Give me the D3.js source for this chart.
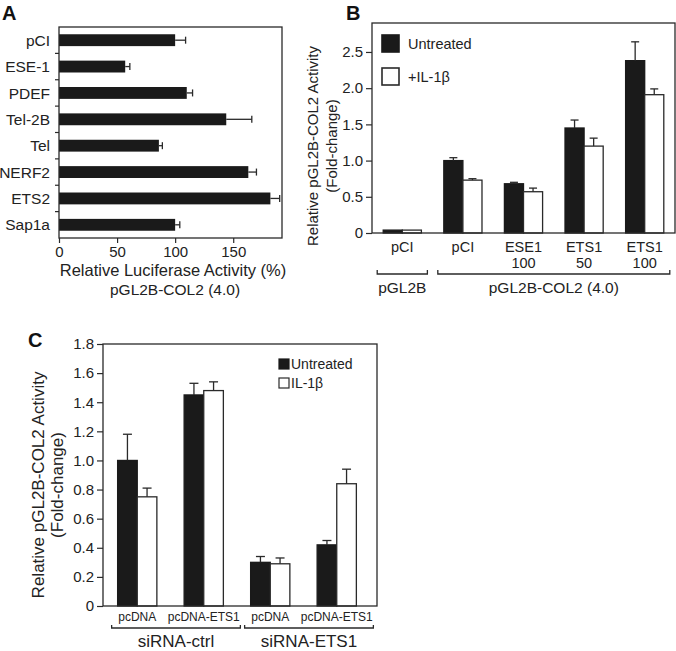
<!DOCTYPE html>
<html><head><meta charset="utf-8">
<script src="https://cdn.jsdelivr.net/npm/d3@7"></script>
<style>
html,body{margin:0;padding:0;background:#fff;}
svg{display:block;font-family:"Liberation Sans",Arial,Helvetica,sans-serif;}
</style></head>
<body>
<svg id="fig" width="676" height="651"></svg>
<script>
// ---------- Panel A data ----------
const aCategories = ["pCI","ESE-1","PDEF","Tel-2B","Tel","NERF2","ETS2","Sap1a"];
const aValues = [100, 57, 110, 144, 86, 163, 182, 100];
const aErrors = [9, 4, 5, 22, 3, 7, 8, 4];
const aTicks = [0, 50, 100, 150];

// ---------- Panel B data ----------
const bGroupLabels = [["pCI"], ["pCI"], ["ESE1","100"], ["ETS1","50"], ["ETS1","100"]];
const bUntreated = [0.04, 1.00, 0.68, 1.45, 2.38];
const bUntreatedErr = [0, 0.04, 0.02, 0.11, 0.26];
const bIL1b = [0.04, 0.73, 0.57, 1.20, 1.91];
const bIL1bErr = [0, 0.02, 0.05, 0.11, 0.08];
const bTicks = [0, 0.5, 1.0, 1.5, 2.0, 2.5];
const bBrackets = [["pGL2B", 0, 0], ["pGL2B-COL2 (4.0)", 1, 4]];

// ---------- Panel C data ----------
const cGroupLabels = ["pcDNA", "pcDNA-ETS1", "pcDNA", "pcDNA-ETS1"];
const cUntreated = [1.00, 1.45, 0.30, 0.42];
const cUntreatedErr = [0.18, 0.08, 0.04, 0.03];
const cIL1b = [0.75, 1.48, 0.29, 0.84];
const cIL1bErr = [0.06, 0.06, 0.04, 0.10];
const cTicks = [0, 0.2, 0.4, 0.6, 0.8, 1.0, 1.2, 1.4, 1.6, 1.8];
const cBrackets = [["siRNA-ctrl", 0, 1], ["siRNA-ETS1", 2, 3]];

const seriesNames = ["Untreated", "IL-1\u03B2"];

const svg = d3.select("#fig");
const INK = "#1a1a1a", LINE = "#2a2a2a", TXT = "#222";

function frame(g, x0, y0, x1, y1) {
  g.append("rect").attr("x", x0).attr("y", y0).attr("width", x1 - x0).attr("height", y1 - y0)
    .attr("fill", "none").attr("stroke", LINE).attr("stroke-width", 1.3);
}
function styleAxis(sel, fs) {
  sel.select(".domain").remove();
  sel.selectAll(".tick line").attr("stroke", LINE).attr("stroke-width", 1.2);
  sel.selectAll(".tick text").attr("fill", TXT).attr("font-size", fs).attr("font-family", null);
}

// ================= Panel A =================
(function () {
  const g = svg.append("g");
  const L = 59, R = 282, T = 27, B = 238;
  const x = d3.scaleLinear().domain([0, 192]).range([L, R]);
  const y = d3.scaleBand().domain(aCategories).range([T, B]).paddingInner(0.55).paddingOuter(0.275);

  g.selectAll("rect.bar").data(aCategories).join("rect")
    .attr("x", x(0)).attr("y", d => y(d))
    .attr("width", (d, i) => x(aValues[i]) - x(0)).attr("height", y.bandwidth())
    .attr("fill", INK);
  aCategories.forEach((d, i) => {
    const cy = y(d) + y.bandwidth() / 2, xe = x(aValues[i] + aErrors[i]);
    g.append("line").attr("x1", x(aValues[i])).attr("x2", xe).attr("y1", cy).attr("y2", cy)
      .attr("stroke", LINE).attr("stroke-width", 1.3);
    g.append("line").attr("x1", xe).attr("x2", xe).attr("y1", cy - 3.5).attr("y2", cy + 3.5)
      .attr("stroke", LINE).attr("stroke-width", 1.3);
  });
  frame(g, L, T, R, B);
  const gap = (y.step() - y.bandwidth()) / 2;
  aCategories.slice(1).forEach(d => {
    const yy = y(d) - gap;
    g.append("line").attr("x1", L - 4).attr("x2", L).attr("y1", yy).attr("y2", yy)
      .attr("stroke", LINE).attr("stroke-width", 1.2);
  });
  g.selectAll("text.cat").data(aCategories).join("text")
    .attr("x", L - 9).attr("y", d => y(d) + y.bandwidth() / 2).attr("dy", "0.36em")
    .attr("text-anchor", "end").attr("font-size", 15.5).attr("fill", TXT).text(d => d);
  const ax = g.append("g").attr("transform", `translate(0,${B})`)
    .call(d3.axisBottom(x).tickValues(aTicks).tickSize(5).tickPadding(3).tickFormat(d3.format("d")));
  styleAxis(ax, 15);
  g.append("text").attr("x", 173).attr("y", 276).attr("text-anchor", "middle")
    .attr("font-size", 16.5).attr("fill", TXT).text("Relative Luciferase Activity (%)");
  g.append("text").attr("x", 175).attr("y", 295).attr("text-anchor", "middle")
    .attr("font-size", 15.5).attr("fill", TXT).text("pGL2B-COL2 (4.0)");
  g.append("text").attr("x", 2).attr("y", 20).attr("font-size", 20).attr("font-weight", "bold")
    .attr("fill", "#111").text("A");
})();

// ================= Panel B =================
(function () {
  const g = svg.append("g");
  const L = 372, R = 675, T = 23, B = 233;
  const y = d3.scaleLinear().domain([0, 2.9]).range([B, T]);
  const x = d3.scaleBand().domain(d3.range(bUntreated.length)).range([L, R]).paddingInner(0.37).paddingOuter(0.185);
  const xs = d3.scaleBand().domain([0, 1]).range([0, x.bandwidth()]);
  const series = [[bUntreated, bUntreatedErr], [bIL1b, bIL1bErr]];

  series.forEach(([vals, errs], s) => {
    vals.forEach((v, i) => {
      const x0 = x(i) + xs(s), w = xs.bandwidth();
      g.append("rect").attr("x", x0).attr("y", y(v)).attr("width", w).attr("height", y(0) - y(v))
        .attr("fill", s === 0 ? INK : "#fff").attr("stroke", s === 0 ? INK : LINE).attr("stroke-width", 1.3);
      if (errs[i] > 0) {
        const cx = x0 + w / 2, ye = y(v + errs[i]);
        g.append("line").attr("x1", cx).attr("x2", cx).attr("y1", y(v)).attr("y2", ye).attr("stroke", LINE).attr("stroke-width", 1.3);
        g.append("line").attr("x1", cx - 4).attr("x2", cx + 4).attr("y1", ye).attr("y2", ye).attr("stroke", LINE).attr("stroke-width", 1.3);
      }
    });
  });
  frame(g, L, T, R, B);
  const ay = g.append("g").attr("transform", `translate(${L},0)`)
    .call(d3.axisLeft(y).tickValues(bTicks).tickSize(6).tickPadding(3)
      .tickFormat(d => d === 0 ? "0" : d3.format(".1f")(d)));
  styleAxis(ay, 15);
  g.append("text").attr("transform", `translate(318,146) rotate(-90)`).attr("text-anchor", "middle")
    .attr("font-size", 15).attr("fill", TXT).text("Relative pGL2B-COL2 Activity");
  g.append("text").attr("transform", `translate(337,146) rotate(-90)`).attr("text-anchor", "middle")
    .attr("font-size", 15).attr("fill", TXT).text("(Fold-change)");
  bGroupLabels.forEach((lines, i) => {
    lines.forEach((t, k) => {
      g.append("text").attr("x", x(i) + x.bandwidth() / 2).attr("y", 252 + k * 16)
        .attr("text-anchor", "middle").attr("font-size", 14.5).attr("fill", TXT).text(t);
    });
  });
  bBrackets.forEach(([lab, a, b]) => {
    const x0 = x(a) - 6, x1 = x(b) + x.bandwidth() + 6, yy = 274;
    g.append("path").attr("d", `M${x0},${yy - 4}V${yy}H${x1}V${yy - 4}`)
      .attr("fill", "none").attr("stroke", LINE).attr("stroke-width", 1.3);
    g.append("text").attr("x", (x0 + x1) / 2).attr("y", 293).attr("text-anchor", "middle")
      .attr("font-size", 15.5).attr("fill", TXT).text(lab);
  });
  const legLabels = ["Untreated", "+IL-1\u03B2"];
  legLabels.forEach((t, s) => {
    const yy = 35 + s * 33;
    g.append("rect").attr("x", 382).attr("y", yy).attr("width", 17).attr("height", 17)
      .attr("fill", s === 0 ? INK : "#fff").attr("stroke", s === 0 ? INK : LINE).attr("stroke-width", 1.6);
    g.append("text").attr("x", 408).attr("y", yy + 8.5).attr("dy", "0.36em")
      .attr("font-size", 14.5).attr("fill", TXT).text(t);
  });
  g.append("text").attr("x", 346).attr("y", 20).attr("font-size", 20).attr("font-weight", "bold")
    .attr("fill", "#111").text("B");
})();

// ================= Panel C =================
(function () {
  const g = svg.append("g");
  const L = 103, R = 377, T = 344, B = 606;
  const y = d3.scaleLinear().domain([0, 1.8]).range([B, T]);
  const x = d3.scaleBand().domain(d3.range(cUntreated.length)).range([104, 370]).paddingInner(0.41).paddingOuter(0.205);
  const xs = d3.scaleBand().domain([0, 1]).range([0, x.bandwidth()]);
  const series = [[cUntreated, cUntreatedErr], [cIL1b, cIL1bErr]];

  series.forEach(([vals, errs], s) => {
    vals.forEach((v, i) => {
      const x0 = x(i) + xs(s), w = xs.bandwidth();
      g.append("rect").attr("x", x0).attr("y", y(v)).attr("width", w).attr("height", y(0) - y(v))
        .attr("fill", s === 0 ? INK : "#fff").attr("stroke", s === 0 ? INK : LINE).attr("stroke-width", 1.3);
      const cx = x0 + w / 2, ye = y(v + errs[i]);
      g.append("line").attr("x1", cx).attr("x2", cx).attr("y1", y(v)).attr("y2", ye).attr("stroke", LINE).attr("stroke-width", 1.3);
      g.append("line").attr("x1", cx - 4.5).attr("x2", cx + 4.5).attr("y1", ye).attr("y2", ye).attr("stroke", LINE).attr("stroke-width", 1.3);
    });
  });
  frame(g, L, T, R, B);
  const ay = g.append("g").attr("transform", `translate(${L},0)`)
    .call(d3.axisLeft(y).tickValues(cTicks).tickSize(6).tickPadding(3)
      .tickFormat(d => d === 0 ? "0" : d3.format(".1f")(d)));
  styleAxis(ay, 15);
  g.append("text").attr("transform", `translate(38,485) rotate(-90)`).attr("text-anchor", "middle")
    .attr("dy", "0.36em").attr("font-size", 17).attr("fill", TXT).text("Relative pGL2B-COL2 Activity");
  g.append("text").attr("transform", `translate(57,485) rotate(-90)`).attr("text-anchor", "middle")
    .attr("dy", "0.36em").attr("font-size", 17).attr("fill", TXT).text("(Fold-change)");
  cGroupLabels.forEach((t, i) => {
    g.append("text").attr("x", x(i) + x.bandwidth() / 2).attr("y", 621)
      .attr("text-anchor", "middle").attr("font-size", 12).attr("fill", TXT).text(t);
  });
  cBrackets.forEach(([lab, a, b]) => {
    const x0 = x(a) - 6, x1 = x(b) + x.bandwidth() + 17, yy = 628;
    g.append("path").attr("d", `M${x0},${yy - 3}V${yy}H${x1}V${yy - 3}`)
      .attr("fill", "none").attr("stroke", LINE).attr("stroke-width", 1.3);
    g.append("text").attr("x", (x0 + x1) / 2).attr("y", 647).attr("text-anchor", "middle")
      .attr("font-size", 17).attr("fill", TXT).text(lab);
  });
  seriesNames.forEach((t, s) => {
    const yy = 359 + s * 19;
    g.append("rect").attr("x", 279).attr("y", yy).attr("width", 10).attr("height", 10)
      .attr("fill", s === 0 ? INK : "#fff").attr("stroke", s === 0 ? INK : LINE).attr("stroke-width", 1.2);
    g.append("text").attr("x", 291).attr("y", yy + 5).attr("dy", "0.36em")
      .attr("font-size", 14).attr("fill", TXT).text(t);
  });
  g.append("text").attr("x", 28).attr("y", 347).attr("font-size", 20).attr("font-weight", "bold")
    .attr("fill", "#111").text("C");
})();
</script>
</body></html>
